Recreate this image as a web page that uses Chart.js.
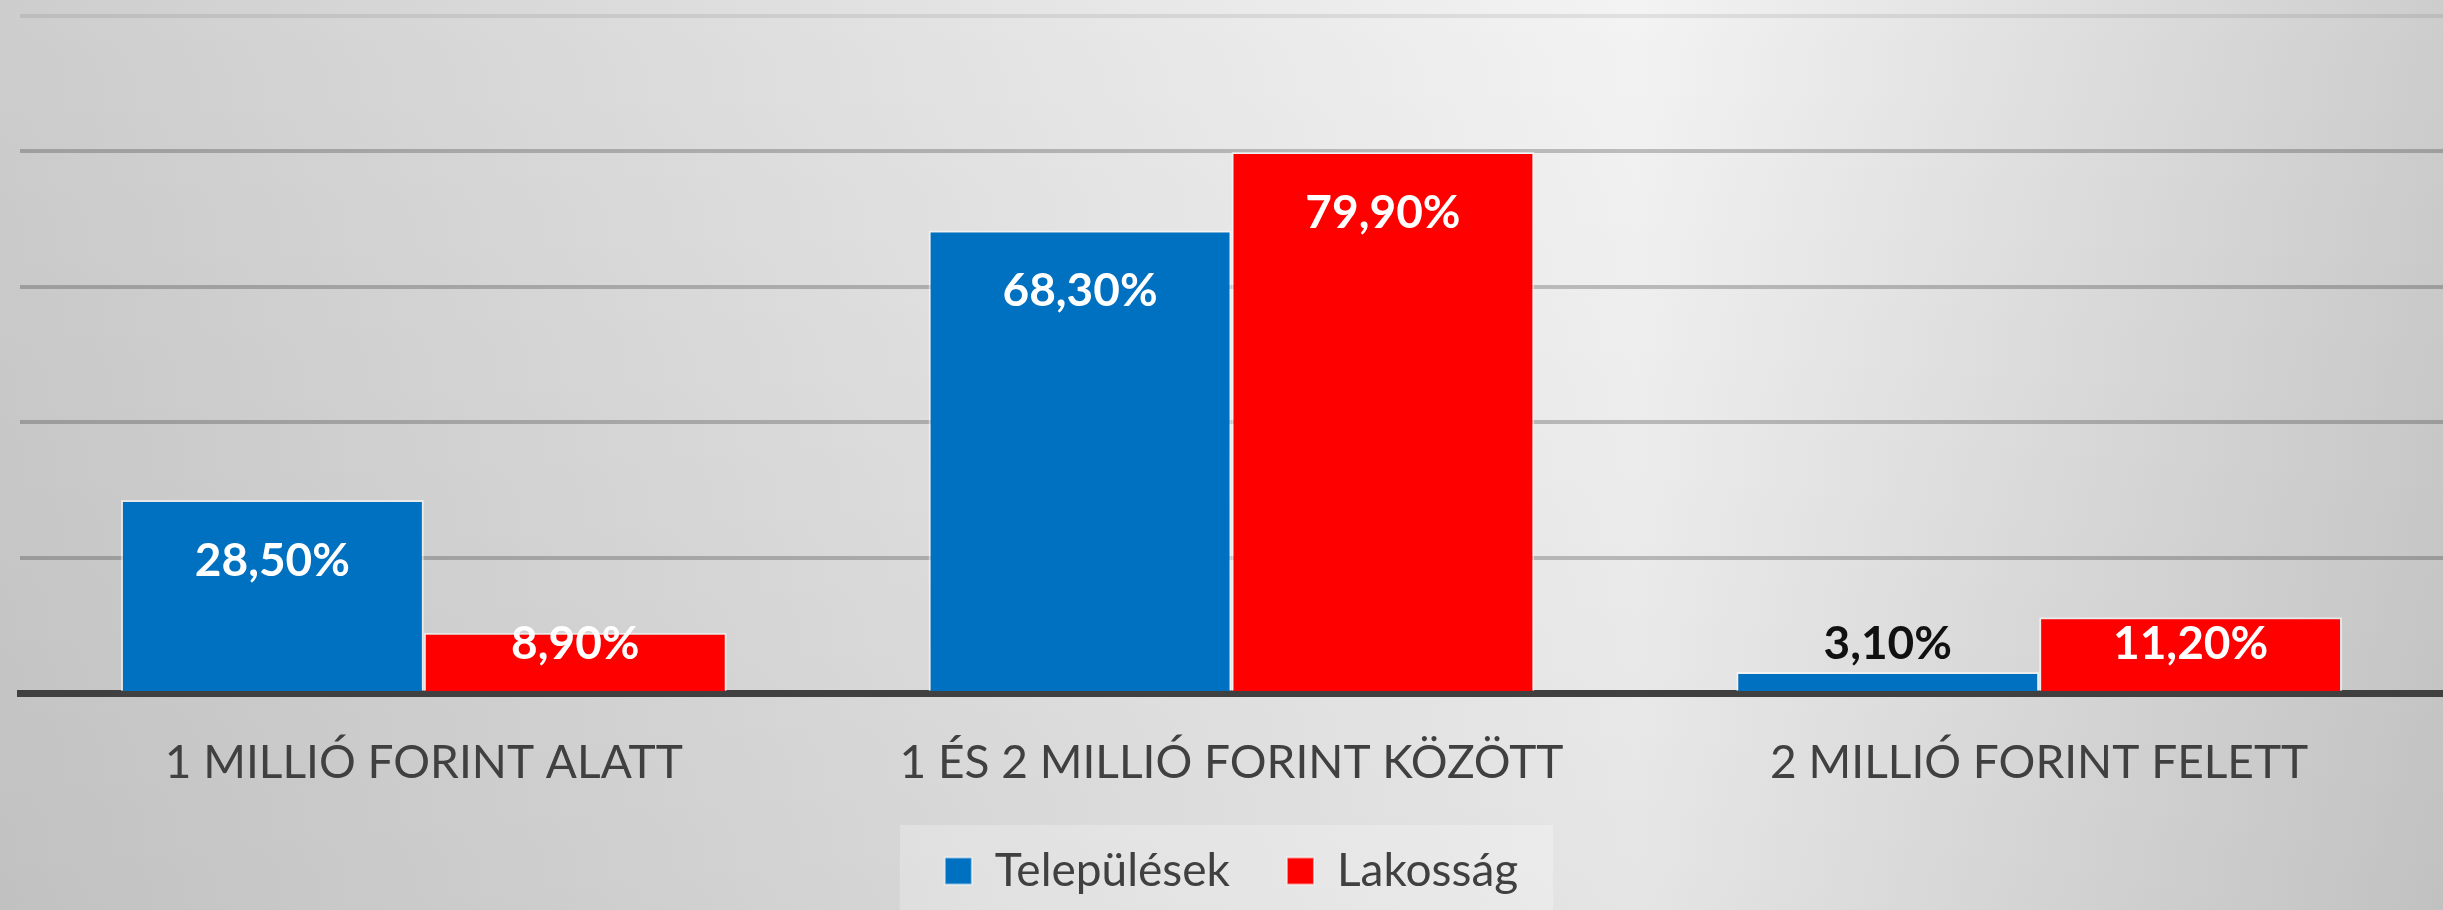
<!DOCTYPE html>
<html lang="hu">
<head>
    <meta charset="UTF-8">
    <title>Települések és lakosság</title>
    <script src="https://cdn.jsdelivr.net/npm/chart.js"></script>
    <style>
        html, body {
            margin: 0;
            padding: 0;
            background: #dcdcdc;
        }
        #wrap {
            width: 2443px;
            height: 910px;
        }
    </style>
</head>
<body>
    <div id="wrap"><canvas id="incomeChart"></canvas></div>

    <script>
        // adatok
        const categories = ['1 MILLIÓ FORINT ALATT', '1 ÉS 2 MILLIÓ FORINT KÖZÖTT', '2 MILLIÓ FORINT FELETT'];
        const telepulesek = [28.5, 68.3, 3.1];
        const lakossag = [8.9, 79.9, 11.2];
        const seriesNames = ['Települések', 'Lakosság'];

        const FONT = 'Lato, "Open Sans", "Liberation Sans", sans-serif';

        // szürke háttér átmenettel + világos doboz a jelmagyarázat mögött
        const backgroundPlugin = {
            id: 'bg',
            beforeDraw(chart) {
                const {ctx, width, height} = chart;
                ctx.save();
                const g = ctx.createLinearGradient(0, 0, width, 0);
                g.addColorStop(0, '#cdcdcd');
                g.addColorStop(0.67, '#f3f3f3');
                g.addColorStop(1, '#cdcdcd');
                ctx.fillStyle = g;
                ctx.fillRect(0, 0, width, height);
                const v = ctx.createLinearGradient(0, 0, 0, height);
                v.addColorStop(0, 'rgba(0,0,0,0)');
                v.addColorStop(1, 'rgba(0,0,0,0.06)');
                ctx.fillStyle = v;
                ctx.fillRect(0, 0, width, height);

                const boxes = chart.legend && chart.legend.legendHitBoxes;
                if (boxes && boxes.length) {
                    const first = boxes[0];
                    const last = boxes[boxes.length - 1];
                    const cy = first.top + first.height / 2;
                    const left = first.left - 45;
                    const right = last.left + last.width + 35;
                    ctx.fillStyle = 'rgba(255,255,255,0.25)';
                    ctx.fillRect(left, cy - 46, right - left, height - (cy - 46));
                }
                ctx.restore();
            }
        };

        // értékcímkék az oszlopokon
        const valueLabels = {
            id: 'valueLabels',
            afterDatasetsDraw(chart) {
                const ctx = chart.ctx;
                ctx.save();
                ctx.font = 'bold 46px ' + FONT;
                ctx.textAlign = 'center';
                ctx.textBaseline = 'middle';
                chart.data.datasets.forEach((ds, di) => {
                    const meta = chart.getDatasetMeta(di);
                    meta.data.forEach((bar, i) => {
                        const y = Math.min(bar.y + 61, bar.base - 47);
                        ctx.fillStyle = y > bar.y ? '#ffffff' : '#111111';
                        ctx.fillText(ds.data[i].toFixed(2).replace('.', ',') + '%', bar.x, y);
                    });
                });
                ctx.restore();
            }
        };

        const ctx = document.getElementById('incomeChart').getContext('2d');
        const incomeChart = new Chart(ctx, {
            type: 'bar',
            data: {
                labels: categories,
                datasets: [{
                    label: seriesNames[0],
                    data: telepulesek,
                    backgroundColor: '#0070C0',
                    borderColor: 'rgba(255,255,255,0.55)',
                    borderWidth: 2,
                    borderSkipped: 'bottom'
                }, {
                    label: seriesNames[1],
                    data: lakossag,
                    backgroundColor: '#FF0000',
                    borderColor: 'rgba(255,255,255,0.55)',
                    borderWidth: 2,
                    borderSkipped: 'bottom'
                }]
            },
            options: {
                responsive: true,
                maintainAspectRatio: false,
                animation: false,
                categoryPercentage: 0.75,
                barPercentage: 1.0,
                layout: {
                    padding: {left: 20, right: 0, top: 16, bottom: 6}
                },
                scales: {
                    x: {
                        grid: {display: false, drawTicks: false},
                        border: {display: true, color: '#404040', width: 7},
                        ticks: {
                            padding: 43,
                            color: '#404040',
                            font: {family: FONT, size: 46}
                        },
                        afterFit: (scale) => { scale.height = 98; }
                    },
                    y: {
                        min: 0,
                        max: 100,
                        ticks: {display: false, stepSize: 20},
                        border: {display: false},
                        grid: {
                            drawTicks: false,
                            lineWidth: 4,
                            color: (c) => {
                                if (c.tick.value === 0) return 'rgba(0,0,0,0)';
                                if (c.tick.value === 100) return 'rgba(0,0,0,0.08)';
                                return 'rgba(0,0,0,0.22)';
                            }
                        }
                    }
                },
                plugins: {
                    legend: {
                        position: 'bottom',
                        labels: {
                            boxWidth: 27,
                            boxHeight: 27,
                            padding: 57,
                            color: '#404040',
                            font: {family: FONT, size: 46}
                        }
                    },
                    tooltip: {enabled: false}
                }
            },
            plugins: [backgroundPlugin, valueLabels]
        });
    </script>
</body>
</html>
